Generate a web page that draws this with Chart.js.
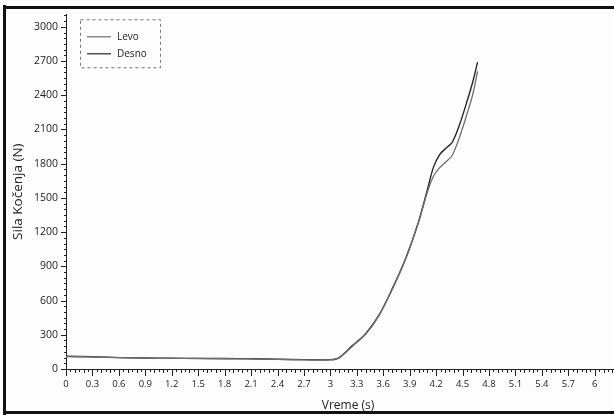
<!DOCTYPE html>
<html>
<head>
<meta charset="utf-8">
<script src="https://cdn.jsdelivr.net/npm/chart.js@4.4.1/dist/chart.umd.min.js"></script>
<style>
  body { margin: 0; background: #fff; }
  #wrap { position: relative; width: 614px; height: 417px; overflow: hidden; background: #fdfdfd; }
  #box { position: absolute; left: 0; top: 0; width: 640px; height: 417px; }
  .frame { position: absolute; background: #111; }
</style>
</head>
<body>
<div id="wrap">
  <div id="box"><canvas id="myChart"></canvas></div>
  <div class="frame" style="left:3px;top:5px;width:3px;height:410px;"></div>
  <div class="frame" style="left:3px;top:6px;width:611px;height:3px;"></div>
  <div class="frame" style="left:3px;top:411px;width:611px;height:3px;"></div>
</div>
<script>
// time (s)
const vreme = [0, 0.3, 0.6, 0.9, 1.2, 1.5, 1.8, 2.1, 2.4, 2.7, 3.0, 3.1, 3.25, 3.4, 3.55, 3.7, 3.85, 4.0, 4.1, 4.17, 4.24, 4.31, 4.38, 4.46, 4.55, 4.62, 4.67];
// braking force (N)
const levo = [108, 106, 100, 95, 93, 92, 90, 88, 84, 80, 80, 98, 200, 305, 465, 695, 955, 1285, 1550, 1690, 1765, 1815, 1870, 2020, 2235, 2420, 2610];
const desno = [112, 108, 100, 96, 94, 93, 92, 90, 86, 82, 82, 100, 205, 310, 470, 700, 960, 1290, 1570, 1770, 1880, 1935, 1985, 2130, 2345, 2530, 2690];

const xMajor = 0.3;
const yMajor = 300;

const toPts = (arr) => arr.map((v, i) => ({ x: vreme[i], y: v }));

// minor ticks along the axes + boxed legend in the top-left corner
const extras = {
  id: "extras",
  afterDraw(chart) {
    const ctx = chart.ctx;
    const xs = chart.scales.x;
    const ys = chart.scales.y;
    const area = chart.chartArea;
    ctx.save();
    ctx.strokeStyle = "#222";
    ctx.lineWidth = 1;
    ctx.beginPath();
    for (let i = 0; i <= 128; i++) {
      const v = i * 0.05;
      if (v > xs.max) break;
      const px = Math.round(xs.getPixelForValue(v)) + 0.5;
      let len = 3;
      if (i % 6 === 0) len = 7;
      else if (i % 2 === 0) len = 4;
      ctx.moveTo(px, xs.top);
      ctx.lineTo(px, xs.top + len);
    }
    for (let v = 0; v <= ys.max; v += 50) {
      const py = Math.round(ys.getPixelForValue(v)) + 0.5;
      const len = v % yMajor === 0 ? 5 : 2;
      ctx.moveTo(ys.right, py);
      ctx.lineTo(ys.right - len, py);
    }
    ctx.stroke();

    // legend
    const lx = area.left + 14, ly = area.top + 5;
    ctx.setLineDash([3, 3]);
    ctx.strokeStyle = "#777";
    ctx.strokeRect(lx + 0.5, ly + 0.5, 80, 48);
    ctx.setLineDash([]);
    ctx.font = "10px 'Open Sans'";
    ctx.textBaseline = "middle";
    ctx.fillStyle = "#222";
    chart.data.datasets.forEach((ds, i) => {
      const y = ly + 17 + i * 17 + 0.5;
      ctx.strokeStyle = ds.borderColor;
      ctx.lineWidth = 1.2;
      ctx.beginPath();
      ctx.moveTo(lx + 7, y);
      ctx.lineTo(lx + 31, y);
      ctx.stroke();
      ctx.fillText(ds.label, lx + 37, y);
    });
    ctx.restore();
  },
};

new Chart(document.getElementById("myChart"), {
  type: "line",
  data: {
    datasets: [
      {
        label: "Levo",
        data: toPts(levo),
        borderColor: "#6e6e6e",
        borderWidth: 1.3,
        pointRadius: 0,
        tension: 0.3,
      },
      {
        label: "Desno",
        data: toPts(desno),
        borderColor: "#262626",
        borderWidth: 1.4,
        pointRadius: 0,
        tension: 0.3,
      },
    ],
  },
  options: {
    responsive: true,
    maintainAspectRatio: false,
    animation: false,
    layout: { padding: { left: 10, top: 12, right: 10, bottom: 4 } },
    plugins: {
      tooltip: { enabled: false },
      legend: { display: false },
    },
    scales: {
      x: {
        type: "linear",
        min: 0,
        max: 6.4,
        afterBuildTicks: (axis) => {
          const t = [];
          for (let i = 0; i * xMajor <= axis.max + 1e-9; i++) t.push({ value: +(i * xMajor).toFixed(1) });
          axis.ticks = t;
        },
        afterFit: (axis) => { axis.height = 44; },
        grid: { display: false, drawTicks: false },
        border: { color: "#222", width: 1 },
        ticks: {
          padding: 10,
          color: "#222",
          font: { family: "Open Sans", size: 9.5 },
          maxRotation: 0,
          autoSkip: false,
          callback: (v) => String(Number(v.toFixed(1))),
        },
        title: {
          display: true,
          text: "Vreme (s)",
          color: "#222",
          font: { family: "Open Sans", size: 12 },
          padding: { top: 2, bottom: 0 },
        },
      },
      y: {
        min: 0,
        max: 3110,
        afterBuildTicks: (axis) => {
          axis.ticks = axis.ticks.filter((t) => t.value % yMajor === 0);
        },
        afterFit: (axis) => { axis.width = 56; },
        grid: { display: false, drawTicks: false },
        border: { color: "#222", width: 1 },
        ticks: {
          stepSize: yMajor,
          padding: 8,
          color: "#222",
          font: { family: "Open Sans", size: 10.5 },
          callback: (v) => String(v),
        },
        title: {
          display: true,
          text: "Sila Kočenja (N)",
          color: "#222",
          font: { family: "Open Sans", size: 13.5 },
          padding: { top: 0, bottom: 2 },
        },
      },
    },
  },
  plugins: [extras],
});
</script>
</body>
</html>
